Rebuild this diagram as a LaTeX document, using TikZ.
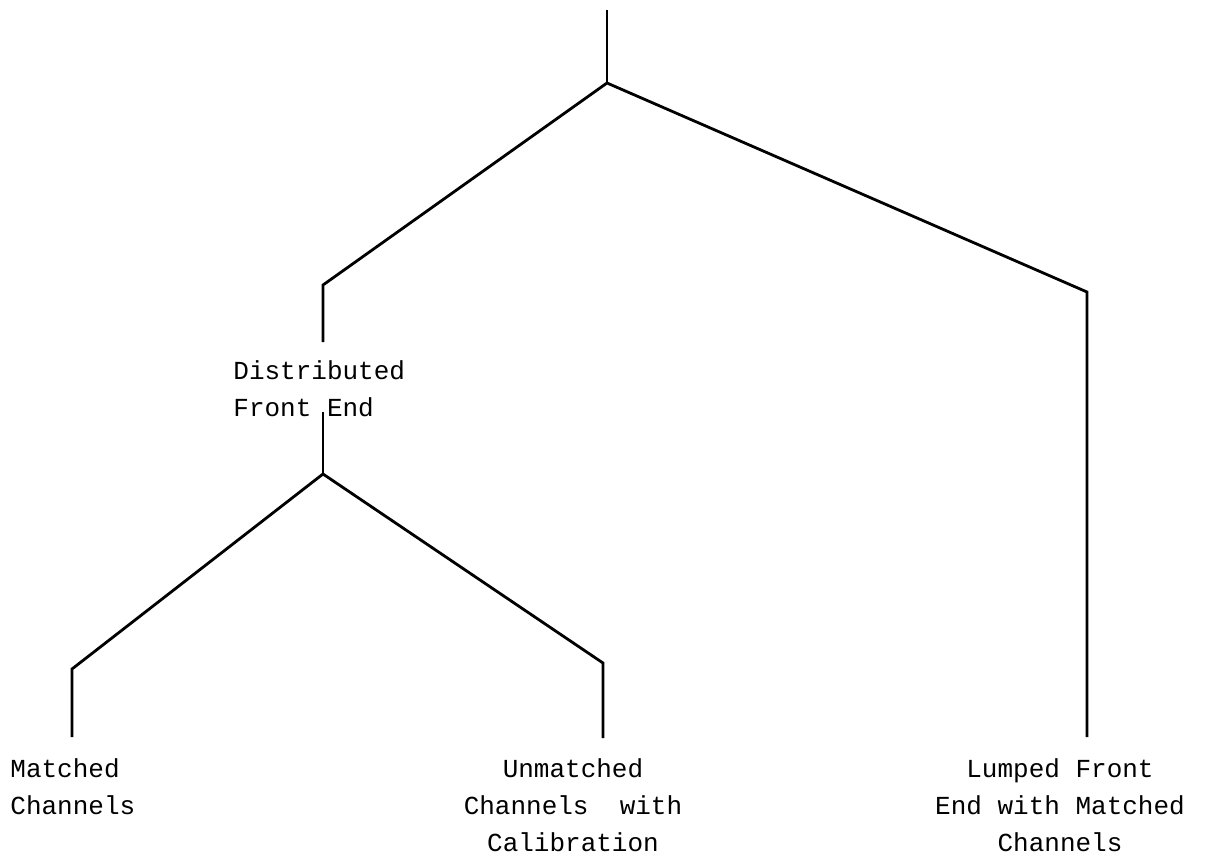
\documentclass[tikz,border=0pt]{standalone}
\usepackage{fontspec}
\setmonofont{Liberation Mono}
\begin{document}
\begin{tikzpicture}[x=0.5pt, y=-0.5pt,
        branch/.style={line width=1.4pt, line join=miter},
        leaf/.style={inner sep=0pt, font=\ttfamily\fontsize{13}{18.5}\selectfont}]
        \useasboundingbox (0,0) rectangle (1209,862);
        % Define branch points
        \coordinate (top) at (607,10);
        \coordinate (root) at (607,83);
        \coordinate (distcorner) at (323,285);
        \coordinate (distabove) at (323,342);
        \coordinate (distbelow) at (323,412);
        \coordinate (split) at (323,474);
        \coordinate (matchcorner) at (72,669);
        \coordinate (matchend) at (72,737);
        \coordinate (unmcorner) at (603,663);
        \coordinate (unmend) at (603,738);
        \coordinate (lumpcorner) at (1087,292);
        \coordinate (lumpend) at (1087,737);
        
        % Define labels
        \node[leaf, align=left, anchor=north west] (dist) at (233,360) {Distributed\\Front End};
        \node[leaf, align=left, anchor=north west] (match) at (10,758) {Matched\\Channels};
        \node[leaf, align=center, anchor=north] (unm) at (573,758) {Unmatched\\Channels\ \ with\\Calibration};
        \node[leaf, align=center, anchor=north] (lump) at (1060,758) {Lumped Front\\End with Matched\\Channels};
        
        % Draw tree
        \draw[branch] (top) -- (root);
        \draw[branch] (distabove) -- (distcorner) -- (root) -- (lumpcorner) -- (lumpend);
        \draw[branch] (distbelow) -- (split);
        \draw[branch] (matchend) -- (matchcorner) -- (split) -- (unmcorner) -- (unmend);
    \end{tikzpicture}
\end{document}
